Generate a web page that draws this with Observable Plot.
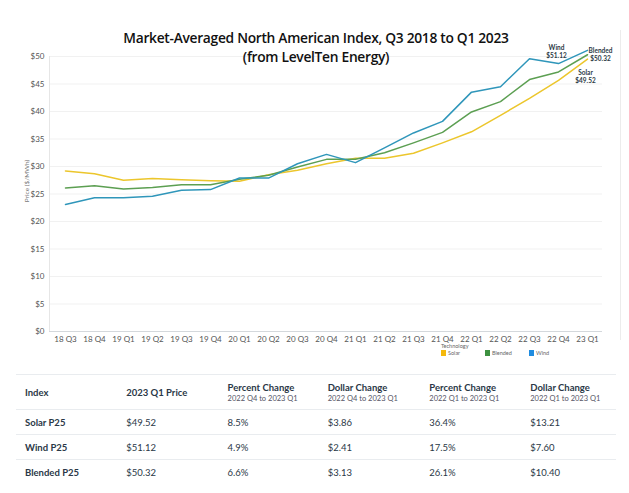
<!DOCTYPE html>
<html>
<head>
<meta charset="utf-8">
<script src="https://cdn.jsdelivr.net/npm/d3@7"></script>
<script src="https://cdn.jsdelivr.net/npm/@observablehq/plot@0.6"></script>
<style>
  html, body { margin: 0; padding: 0; background: #fff; }
  #wrap { position: relative; width: 629px; height: 493px; font-family: Lato, "Open Sans", sans-serif; overflow: hidden; }
  #title { position: absolute; left: 0; width: 632px; top: 28px; text-align: center; font-family: "Open Sans", Lato, sans-serif; font-weight: 600; font-size: 13.8px; line-height: 19px; color: #111; letter-spacing: -0.3px; }
  #chart { position: absolute; left: 0; top: 0; }
  #legend { position: absolute; left: 441px; top: 343px; font-size: 5.5px; color: #666; }
  #legend .items { margin-top: 1px; display: flex; }
  #legend .item { display: flex; align-items: center; width: 44px; }
  #legend .sw { width: 5px; height: 6px; margin-right: 2px; }
  #rightline { position: absolute; left: 620px; top: 30px; width: 1px; height: 310px; background: #ececec; }
  table { position: absolute; left: 16px; top: 374px; width: 600px; border-collapse: collapse; color: #2a3847; font-size: 9.5px; }
  td { padding: 0 0 0 9px; border-top: 1px solid #e9ecef; vertical-align: middle; }
  tr.head td { height: 34px; font-weight: 700; font-size: 9.5px; }
  tr.head td .sub { display: block; font-weight: 400; font-size: 7.5px; color: #556; margin-top: 1px; }
  tr.row td { height: 24px; }
  tr.row td:first-child { font-weight: 700; }
</style>
</head>
<body>
<div id="wrap">
  <div id="chart"></div>
  <div id="rightline"></div>
  <div id="title"></div>
  <div id="legend"></div>
  <table id="tbl"></table>
</div>
<script>
const quarters = ["18 Q3","18 Q4","19 Q1","19 Q2","19 Q3","19 Q4","20 Q1","20 Q2","20 Q3","20 Q4","21 Q1","21 Q2","21 Q3","21 Q4","22 Q1","22 Q2","22 Q3","22 Q4","23 Q1"];
const solar   = [29.2,28.7,27.5,27.8,27.6,27.4,27.3,28.5,29.3,30.5,31.5,31.5,32.4,34.3,36.31,39.3,42.4,45.66,49.52];
const wind    = [23.1,24.3,24.3,24.6,25.7,25.8,27.9,27.9,30.5,32.2,30.7,33.4,36.1,38.2,43.52,44.5,49.6,48.71,51.12];
const blended = [26.1,26.5,25.9,26.2,26.7,26.7,27.7,28.4,29.9,31.3,31.3,32.5,34.3,36.2,39.92,41.8,45.8,47.19,50.32];
const yTicks = [0,5,10,15,20,25,30,35,40,45,50];
const techs = ["Solar","Blended","Wind"];
const lineColors = ["#ecc62c","#5c9f52","#2f96ba"];
const legendColors = ["#f5b90c","#3d9140","#1f8ce0"];

const titleLines = ["Market-Averaged North American Index, Q3 2018 to Q1 2023", "(from LevelTen Energy)"];

const tableHeaders = ["Index","2023 Q1 Price","Percent Change","Dollar Change","Percent Change","Dollar Change"];
const tableSubs = ["","","2022 Q4 to 2023 Q1","2022 Q4 to 2023 Q1","2022 Q1 to 2023 Q1","2022 Q1 to 2023 Q1"];
const indexNames = ["Solar P25","Wind P25","Blended P25"];
const prices = ["$49.52","$51.12","$50.32"];
const pctQoQ = ["8.5%","4.9%","6.6%"];
const dolQoQ = ["$3.86","$2.41","$3.13"];
const pctYoY = ["36.4%","17.5%","26.1%"];
const dolYoY = ["$13.21","$7.60","$10.40"];

const data = [];
quarters.forEach((q, i) => {
  data.push({q, tech: "Solar", v: solar[i]});
  data.push({q, tech: "Blended", v: blended[i]});
  data.push({q, tech: "Wind", v: wind[i]});
});
const last = quarters[quarters.length - 1];
const lastIdx = quarters.length - 1;

const plot = Plot.plot({
  width: 629,
  height: 370,
  marginLeft: 49,
  marginRight: 27,
  marginTop: 56,
  marginBottom: 39,
  style: {fontFamily: "Lato, sans-serif", fontSize: "8px", color: "#555", background: "transparent"},
  x: {type: "point", domain: quarters, padding: 0.5, label: null, tickSize: 0, tickPadding: 5},
  y: {domain: [0, 50], ticks: yTicks, tickFormat: d => "$" + d, label: null, tickSize: 0, tickPadding: 5},
  color: {domain: techs, range: lineColors},
  marks: [
    Plot.ruleY(yTicks.slice(1), {stroke: "#f1f1f1"}),
    Plot.frame({anchor: "left", stroke: "#e6e6e6"}),
    Plot.ruleY([0], {stroke: "#d4d8dc"}),
    Plot.lineY(data, {x: "q", y: "v", stroke: "tech", strokeWidth: 1.5}),
    Plot.text([{q: last, v: wind[lastIdx]}], {x: "q", y: "v", text: d => "Wind\n$" + d.v.toFixed(2), dx: -31, dy: 1, fontSize: 6.5, fontWeight: 700, fill: "#2d3a45", lineHeight: 1.2}),
    Plot.text([{q: last, v: blended[lastIdx]}], {x: "q", y: "v", text: d => "Blended\n$" + d.v.toFixed(2), dx: 13, dy: 0, fontSize: 6.5, fontWeight: 700, fill: "#2d3a45", lineHeight: 1.2}),
    Plot.text([{q: last, v: solar[lastIdx]}], {x: "q", y: "v", text: d => "Solar\n$" + d.v.toFixed(2), dx: -2, dy: 17, fontSize: 6.5, fontWeight: 700, fill: "#2d3a45", lineHeight: 1.2})
  ]
});
document.getElementById("chart").appendChild(plot);

// y label
const svg = d3.select(plot);
svg.append("text")
  .attr("transform", "translate(27,181) rotate(-90)")
  .attr("text-anchor", "middle")
  .attr("dominant-baseline", "middle")
  .attr("font-size", "6.5px")
  .attr("fill", "#777")
  .text("Price ($/MWh)");

document.getElementById("title").innerHTML = titleLines.map(t => `<div>${t}</div>`).join("");

const lg = document.getElementById("legend");
lg.innerHTML = `<div>Technology</div><div class="items">` +
  techs.map((t, i) => `<div class="item"><span class="sw" style="background:${legendColors[i]}"></span>${t}</div>`).join("") +
  `</div>`;

const tbl = document.getElementById("tbl");
let html = `<tr class="head">` + tableHeaders.map((h, i) => `<td>${h}${tableSubs[i] ? `<span class="sub">${tableSubs[i]}</span>` : ""}</td>`).join("") + `</tr>`;
indexNames.forEach((n, i) => {
  html += `<tr class="row"><td>${n}</td><td>${prices[i]}</td><td>${pctQoQ[i]}</td><td>${dolQoQ[i]}</td><td>${pctYoY[i]}</td><td>${dolYoY[i]}</td></tr>`;
});
tbl.innerHTML = html;
const widths = [101, 102, 100, 102, 101, 94];
tbl.querySelectorAll("tr.head td").forEach((td, i) => td.style.width = widths[i] + "px");
</script>
</body>
</html>
